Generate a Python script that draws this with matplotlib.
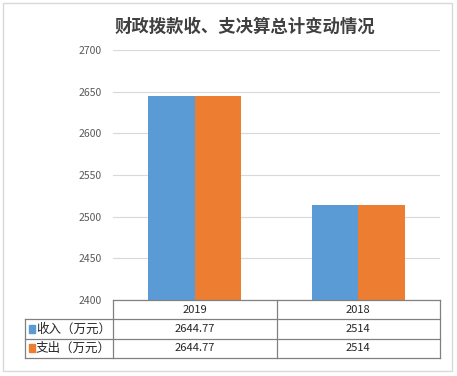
import matplotlib

matplotlib.use("Agg")
import matplotlib.pyplot as plt
from matplotlib.patches import Rectangle

plt.rcParams["font.family"] = ["Noto Sans CJK SC", "DejaVu Sans"]

TITLE = "财政拨款收、支决算总计变动情况"
years = ["2019", "2018"]
series_names = ["收入（万元）", "支出（万元）"]
income = [2644.77, 2514]
expense = [2644.77, 2514]
income_labels = ["2644.77", "2514"]
expense_labels = ["2644.77", "2514"]
colors = ["#5B9BD5", "#ED7D31"]

W, H = 457, 376


def fx(px):
    return px / W


def fy(py):
    return 1 - py / H


def main():
    fig = plt.figure(figsize=(W / 100, H / 100), dpi=100)

    # outer frame
    fig.patches.append(Rectangle((fx(3), fy(371)), fx(449), 368 / H, transform=fig.transFigure,
                                 fill=False, edgecolor="#d9d9d9", linewidth=1.0))

    fig.text(0.5 * (fx(117) + fx(373)), fy(27), TITLE, ha="center", va="center",
             fontsize=12.5, fontweight="bold", color="#404040")

    ax = fig.add_axes([fx(113), fy(300), fx(327), 250 / H])
    x = list(range(len(years)))
    bw = 0.285
    ax.bar([i - bw / 2 for i in x], income, width=bw, color=colors[0], zorder=3)
    ax.bar([i + bw / 2 for i in x], expense, width=bw, color=colors[1], zorder=3)
    ax.set_xlim(-0.5, 1.5)
    ax.set_ylim(2400, 2700)
    ax.set_yticks(range(2400, 2701, 50))
    ax.yaxis.grid(True, color="#d9d9d9", linewidth=0.8, zorder=0)
    ax.set_xticks([])
    for s in ax.spines.values():
        s.set_visible(False)
    ax.tick_params(axis="y", length=0, pad=8, labelsize=7.5, labelcolor="#595959")

    # data table under the plot
    unit = 327 / 2
    tax = fig.add_axes([fx(25), fy(358), fx(415), 58 / H])
    left = -0.5 - 88 / unit
    tax.set_xlim(left, 1.5)
    tax.set_ylim(3, 0)
    tax.axis("off")
    lc = "#808080"
    lw = 0.9
    tax.plot([-0.5, 1.5], [0, 0], color=lc, lw=lw, clip_on=False)
    for yv in (1, 2, 3):
        tax.plot([left, 1.5], [yv, yv], color=lc, lw=lw, clip_on=False)
    tax.plot([left, left], [1, 3], color=lc, lw=lw, clip_on=False)
    for xv in (-0.5, 0.5, 1.5):
        tax.plot([xv, xv], [0, 3], color=lc, lw=lw, clip_on=False)

    for i, yr in enumerate(years):
        tax.text(i, 0.5, yr, ha="center", va="center", fontsize=8, color="#262626")
    rows = [income_labels, expense_labels]
    for r, (name, vals) in enumerate(zip(series_names, rows)):
        yc = r + 1.5
        tax.add_patch(Rectangle((left + 4 / unit, yc - 0.2), 6 / unit, 0.4,
                                color=colors[r], clip_on=False))
        tax.text(left + 11 / unit, yc, name, ha="left", va="center", fontsize=9, color="#262626")
        for i, v in enumerate(vals):
            tax.text(i, yc, v, ha="center", va="center", fontsize=8, color="#262626")

    fig.savefig("out.png", dpi=100)
    plt.close(fig)


if __name__ == "__main__":
    main()
